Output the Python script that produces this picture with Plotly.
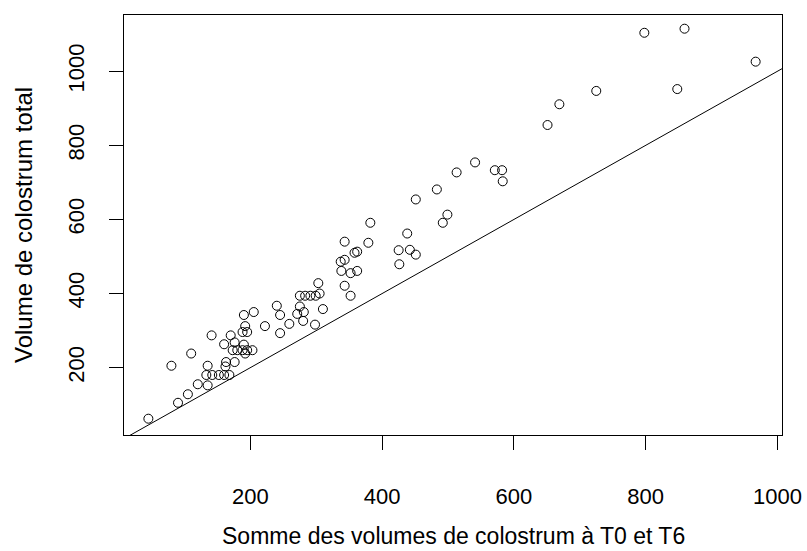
import plotly.graph_objects as go

# Somme des volumes de colostrum à T0 et T6 (x) vs volume total (y)
somme_t0_t6 = [
    45, 80, 90, 105, 110, 120, 135, 135, 141,
    133, 142, 152, 160, 168,
    162, 163, 160, 170, 176, 176, 190, 190, 205, 192, 188, 195,
    173, 180, 188, 195, 203, 192,
    222, 240, 245, 245, 259, 271, 275, 280, 281,
    275, 283, 291, 299, 303, 305, 310, 298,
    343, 352, 338, 352, 362, 337, 343, 358, 362, 343, 379, 382,
    425, 426, 438, 442, 451,
    451, 483, 513, 541, 571, 582, 583, 499, 492,
    651, 669, 725,
    798, 859, 967, 848,
]
volume_total = [
    62, 205, 105, 128, 238, 155, 152, 205, 287,
    180, 180, 180, 180, 180,
    203, 215, 263, 287, 215, 268, 262, 342, 350, 312, 296, 296,
    247, 247, 247, 247, 247, 238,
    312, 367, 342, 293, 318, 345, 365, 326, 350,
    394, 394, 394, 394, 428, 400, 358, 316,
    421, 394, 461, 455, 461, 486, 491, 510, 513, 540, 537, 591,
    517, 479, 562, 518, 505,
    654, 681, 727, 754, 733, 733, 703, 613, 591,
    855, 911, 947,
    1104, 1115, 1026, 952,
]

x_ticks = [200, 400, 600, 800, 1000]
y_ticks = [200, 400, 600, 800, 1000]
x_range = [8, 1007]
y_range = [18, 1152]
ab_intercept, ab_slope = 0, 1

FONT = "Liberation Sans, Arial, sans-serif"

fig = go.Figure()
fig.add_trace(go.Scatter(
    x=somme_t0_t6, y=volume_total, mode="markers",
    marker=dict(symbol="circle-open", size=9, color="black",
                line=dict(width=1, color="black")),
    showlegend=False, hoverinfo="x+y",
))
fig.add_trace(go.Scatter(
    x=x_range, y=[ab_intercept + ab_slope * v for v in x_range],
    mode="lines", line=dict(color="black", width=1),
    showlegend=False, hoverinfo="skip",
))

axis_common = dict(
    showgrid=False, zeroline=False, showline=True, mirror=True,
    linecolor="black", linewidth=1, ticks="outside", ticklen=14,
    tickcolor="black", tickwidth=1,
    tickfont=dict(family=FONT, size=22, color="black"),
)
fig.update_xaxes(range=x_range, tickvals=x_ticks, ticklabelstandoff=28, **axis_common)
fig.update_yaxes(range=y_range, tickvals=y_ticks, tickangle=-90, ticklabelstandoff=16, **axis_common)

fig.update_layout(
    width=807, height=551,
    margin=dict(l=124, r=25, t=15, b=116, autoexpand=False),
    plot_bgcolor="white", paper_bgcolor="white",
    font=dict(family=FONT, size=22, color="black"),
    annotations=[
        dict(text="Somme des volumes de colostrum à T0 et T6", xref="paper", yref="paper",
             x=0.5, y=0, yshift=-101, showarrow=False, xanchor="center", yanchor="middle",
             font=dict(family=FONT, size=23, color="black")),
        dict(text="Volume de colostrum total", xref="paper", yref="paper",
             x=0, y=0.5, xshift=-101, showarrow=False, textangle=-90,
             xanchor="center", yanchor="middle",
             font=dict(family=FONT, size=24, color="black")),
    ],
)

fig.write_html("out.html")
